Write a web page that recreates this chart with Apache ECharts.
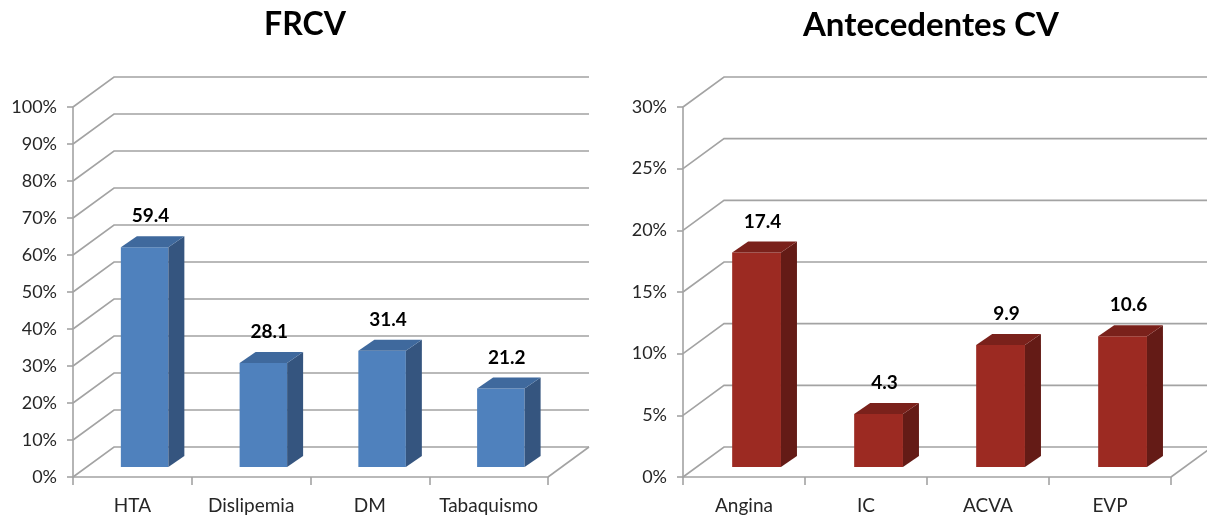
<!DOCTYPE html>
<html lang="es">
<head>
<meta charset="UTF-8">
<title>FRCV / Antecedentes CV</title>
<script src="https://cdn.jsdelivr.net/npm/echarts@6/dist/echarts.min.js"></script>
</head>
<body style="margin:0;background:#ffffff">
<div id="chart" style="width:1207px;height:518px;"></div>
<script>
// datos
var frcvCats = ['HTA', 'Dislipemia', 'DM', 'Tabaquismo'];
var frcvVals = [59.4, 28.1, 31.4, 21.2];
var frcvTicks = [0, 10, 20, 30, 40, 50, 60, 70, 80, 90, 100];

var cvCats = ['Angina', 'IC', 'ACVA', 'EVP'];
var cvVals = [17.4, 4.3, 9.9, 10.6];
var cvTicks = [0, 5, 10, 15, 20, 25, 30];

// profundidad del "3D"
var DX = 41, DY = -30;
var lineCol = '#a3a3a3';
var fontFam = 'Lato, "Open Sans", sans-serif';

function wallItem(params, api) {
    var cs = params.coordSys;
    var v = api.value(1);
    var y = api.coord([0, v])[1];
    var x0 = cs.x, x1 = cs.x + cs.width;
    var kids = [{
        type: 'polyline',
        shape: { points: [[x0, y], [x0 + DX, y + DY], [x1 + DX, y + DY]] },
        style: { stroke: lineCol, lineWidth: 1.6, fill: null }
    }];
    if (v === 0) {
        kids.push({
            type: 'line',
            shape: { x1: x1, y1: y, x2: x1 + DX, y2: y + DY },
            style: { stroke: lineCol, lineWidth: 1.6 }
        });
    }
    return { type: 'group', children: kids };
}

function barMaker(front, side, top) {
    return function (params, api) {
        var i = api.value(0), v = api.value(1);
        var pTop = api.coord([i, v]);
        var pBase = api.coord([i, 0]);
        var bw = api.size([1, 0])[0];
        var w = 0.4 * bw;
        var fx = pTop[0] - 0.097 * bw;
        var fb = pBase[1] - 10;
        var ft = pTop[1] - 10;
        var sx = 16, sy = -11;
        return {
            type: 'group',
            children: [
                { type: 'rect', shape: { x: fx, y: ft, width: w, height: fb - ft }, style: { fill: front } },
                { type: 'polygon', shape: { points: [[fx + w, ft], [fx + w + sx, ft + sy], [fx + w + sx, fb + sy], [fx + w, fb]] }, style: { fill: side } },
                { type: 'polygon', shape: { points: [[fx, ft], [fx + sx, ft + sy], [fx + w + sx, ft + sy], [fx + w, ft]] }, style: { fill: top } },
                {
                    type: 'text',
                    style: {
                        x: fx + w / 2 + 6, y: ft + sy - 20,
                        text: String(v), align: 'center', verticalAlign: 'middle',
                        fill: '#000', font: 'bold 19px ' + fontFam
                    }
                }
            ]
        };
    };
}

function catAxis(idx, cats) {
    return {
        type: 'category', gridIndex: idx, data: cats,
        axisLine: { show: true, lineStyle: { color: lineCol, width: 1.6 } },
        axisTick: { show: true, length: 8, lineStyle: { color: lineCol, width: 1.6 } },
        axisLabel: { interval: 0, hideOverlap: false, margin: 19, color: '#262626', fontSize: 19, fontFamily: fontFam },
        splitLine: { show: false }
    };
}

function valAxis(idx, max, step) {
    return {
        type: 'value', gridIndex: idx, min: 0, max: max, interval: step,
        axisLine: { show: true, lineStyle: { color: lineCol, width: 1.6 } },
        axisTick: { show: true, length: 6, lineStyle: { color: lineCol, width: 1.6 } },
        axisLabel: { margin: 16, color: '#262626', fontSize: 18, fontFamily: fontFam, formatter: '{value}%' },
        splitLine: { show: false }
    };
}

var myChart = echarts.init(document.getElementById('chart'));
var option = {
    animation: false,
    title: [
        { text: 'FRCV', left: 300, top: 4, textAlign: 'center',
          textStyle: { fontSize: 32, fontWeight: 'bold', color: '#000', fontFamily: fontFam } },
        { text: 'Antecedentes CV', left: 926, top: 4, textAlign: 'center',
          textStyle: { fontSize: 33, fontWeight: 'bold', color: '#000', fontFamily: fontFam } }
    ],
    grid: [
        { left: 73, top: 107, width: 475, height: 370 },
        { left: 683, top: 107, width: 488, height: 370 }
    ],
    xAxis: [catAxis(0, frcvCats), catAxis(1, cvCats)],
    yAxis: [valAxis(0, 100, 10), valAxis(1, 30, 5)],
    series: [
        { type: 'custom', xAxisIndex: 0, yAxisIndex: 0, z: 1, silent: true,
          renderItem: wallItem, data: frcvTicks.map(function (t) { return [0, t]; }) },
        { type: 'custom', xAxisIndex: 1, yAxisIndex: 1, z: 1, silent: true,
          renderItem: wallItem, data: cvTicks.map(function (t) { return [0, t]; }) },
        { type: 'custom', xAxisIndex: 0, yAxisIndex: 0, z: 3,
          renderItem: barMaker('#4f81bd', '#35557f', '#3f699d'),
          data: frcvVals.map(function (v, i) { return [i, v]; }) },
        { type: 'custom', xAxisIndex: 1, yAxisIndex: 1, z: 3,
          renderItem: barMaker('#9c2a22', '#641b16', '#7a211b'),
          data: cvVals.map(function (v, i) { return [i, v]; }) }
    ]
};
myChart.setOption(option);
</script>
</body>
</html>
